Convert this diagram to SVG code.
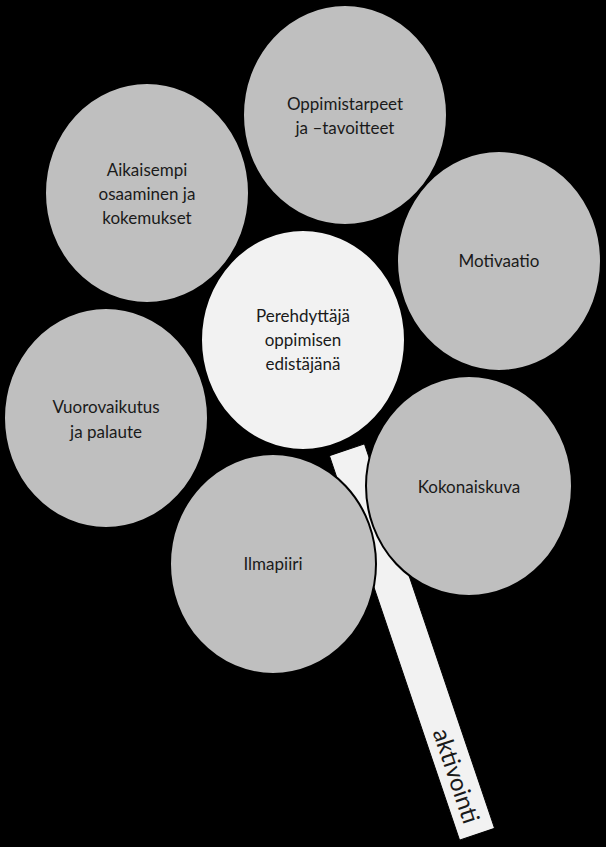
<svg xmlns="http://www.w3.org/2000/svg" width="606" height="847" viewBox="0 0 606 847">
<style>
.bub{fill:#BFBFBF;stroke:#000;stroke-width:2}
.core{fill:#F2F2F2;stroke:#000;stroke-width:2}
.lbl{font-family:Lato,"Liberation Sans",sans-serif;font-size:17px;fill:#1a1a1a;text-anchor:middle}
.stem{fill:#F2F2F2;stroke:#000;stroke-width:1}
</style>
<rect width="606" height="847" fill="#000"/>
<g id="connectors">
<g id="stem" transform="translate(412,642) rotate(-18.7)">
<rect class="stem" x="-18.5" y="-203" width="37" height="406"/>
<text class="lbl" x="0" y="0" transform="translate(0,141) rotate(90)" dominant-baseline="central" style="font-size:24px">aktivointi</text>
</g>
</g>
<g id="n-oppimistarpeet">
<ellipse class="bub" cx="345" cy="115" rx="102" ry="110"/>
<text class="lbl" x="345" y="110">Oppimistarpeet</text>
<text class="lbl" x="345" y="134">ja –tavoitteet</text>
</g>
<g id="n-aikaisempi">
<ellipse class="bub" cx="147" cy="193" rx="102" ry="110"/>
<text class="lbl" x="147" y="176">Aikaisempi</text>
<text class="lbl" x="147" y="200">osaaminen ja</text>
<text class="lbl" x="147" y="224">kokemukset</text>
</g>
<g id="n-motivaatio">
<ellipse class="bub" cx="499" cy="261" rx="102" ry="110"/>
<text class="lbl" x="499" y="267">Motivaatio</text>
</g>
<g id="n-vuorovaikutus">
<ellipse class="bub" cx="106" cy="418" rx="102" ry="110"/>
<text class="lbl" x="106" y="413">Vuorovaikutus</text>
<text class="lbl" x="106" y="438">ja palaute</text>
</g>
<g id="n-ilmapiiri">
<ellipse class="bub" cx="273" cy="564" rx="103" ry="110"/>
<text class="lbl" x="273" y="570">Ilmapiiri</text>
</g>
<g id="n-kokonaiskuva">
<ellipse class="bub" cx="469" cy="486" rx="103" ry="110"/>
<text class="lbl" x="469" y="493">Kokonaiskuva</text>
</g>
<g id="n-perehdyttaja">
<ellipse class="core" cx="303" cy="340" rx="102" ry="110"/>
<text class="lbl" x="303" y="322">Perehdyttäjä</text>
<text class="lbl" x="303" y="346">oppimisen</text>
<text class="lbl" x="303" y="370">edistäjänä</text>
</g>
</svg>
